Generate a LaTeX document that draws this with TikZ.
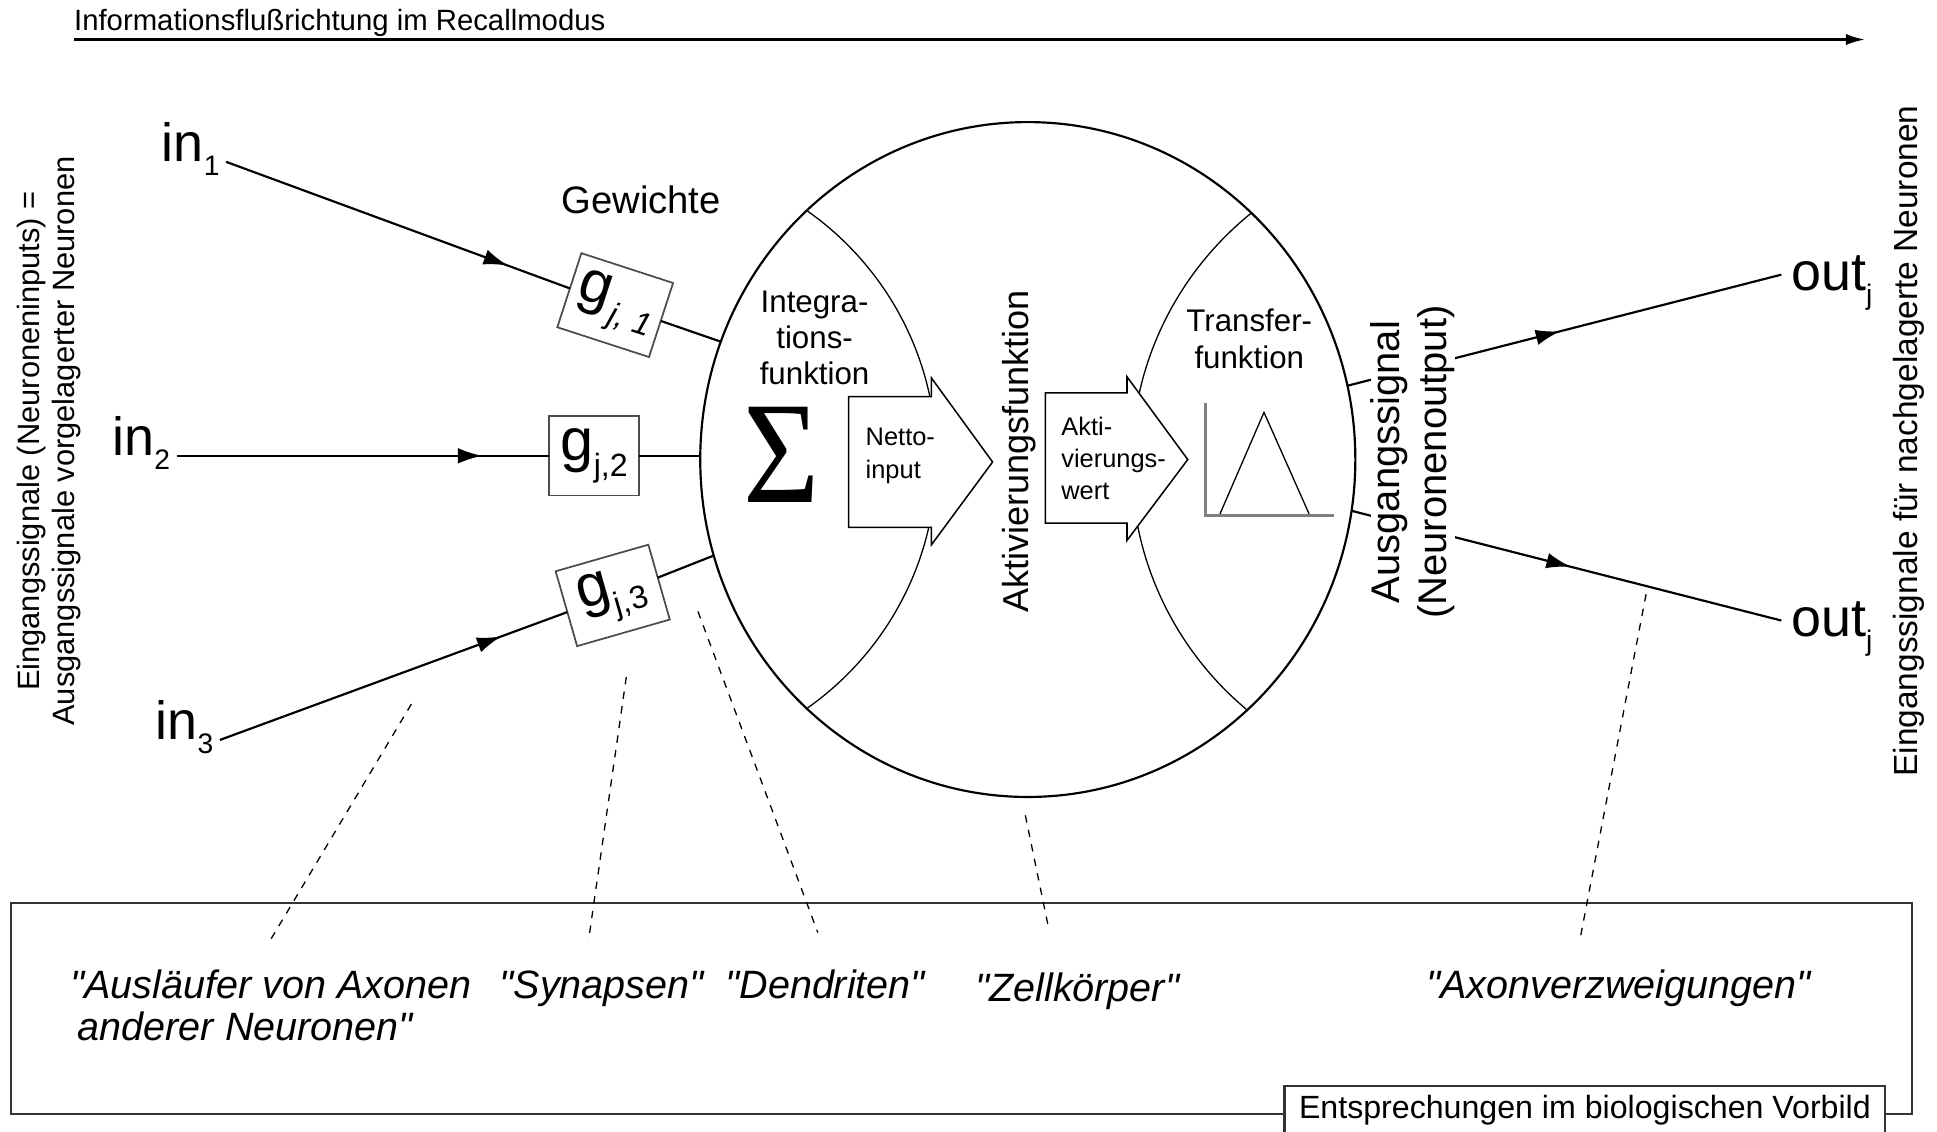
\documentclass[tikz,border=0pt]{standalone}
\usepackage{fontspec}
\setmainfont{Liberation Sans}
\newfontfamily\quotefont{Liberation Sans}
\newfontfamily\sigmafont{Liberation Serif}
\usepackage{graphicx}
\usetikzlibrary{arrows.meta,decorations.markings,shapes.geometric}

\newcommand{\lowidx}[2]{\raisebox{-0.26em}{\fontsize{#1}{#1}\selectfont #2}}
\newcommand{\qmark}{{\quotefont"}}

\begin{document}
\begin{tikzpicture}[x=0.01cm,y=-0.01cm,
  every node/.style={inner sep=0pt,outer sep=0pt},
  conn/.style={line width=0.5pt},
  midarrow/.style={postaction={decorate},decoration={markings,
      mark=at position #1 with {\arrow{Latex[length=5.6pt,width=3.6pt]}}}},
  sig/.style={font=\fontsize{12.4}{13}\selectfont,inner xsep=1.5pt},
  gbox/.style={draw=black!70,line width=0.4pt,fill=white,minimum width=0.78cm,
      minimum height=0.63cm,font=\fontsize{13.7}{14}\selectfont},
  part/.style={line width=0.3pt},
  blockarrow/.style={draw,line width=0.35pt,fill=white},
  small/.style={font=\fontsize{5.85}{7.4}\selectfont,align=left,anchor=west},
  mid/.style={font=\fontsize{7.2}{8.35}\selectfont,align=center},
  side/.style={rotate=90,align=center},
  bio/.style={font=\fontsize{9.1}{9.7}\selectfont\itshape},
  pointer/.style={line width=0.3pt,dash pattern=on 1.7pt off 1.7pt}]

\useasboundingbox (0,0) rectangle (1568,916);

% flow direction
\node[font=\fontsize{6.75}{8}\selectfont,anchor=base west] (flowlbl) at (60,25) {Informationsflußrichtung im Recallmodus};
\coordinate (flowstart) at (60,32);
\coordinate (flowend) at (1510,32);
\draw[line width=0.65pt,-{Latex[length=4.5pt,width=2.6pt]}] (flowstart) -- (flowend);

\node[side,font=\fontsize{7.1}{8.1}\selectfont] (insig) at (40,357)
  {Eingangssignale (Neuroneninputs) =\\Ausgangssignale vorgelagerter Neuronen};
\node[side,font=\fontsize{7.7}{9}\selectfont] (outsig) at (1545,357)
  {Eingangssignale für nachgelagerte Neuronen};

% neuron
\node[ellipse,draw,line width=0.5pt,minimum width=5.3cm,minimum height=5.46cm] (cell) at (832,372) {};
\begin{scope}
  \clip (832,372) ellipse [x radius=265,y radius=273];
  \draw[part] (512,372) circle [radius=246];
  \draw[part] (1176,375) circle [radius=260];
\end{scope}

\draw[blockarrow] (687,321) -- (754,321) -- (754,306) -- (803.5,374)
  -- (754,441) -- (754,427) -- (687,427) -- cycle;
\draw[blockarrow] (846.3,318) -- (912.3,318) -- (912.3,305) -- (961.5,372)
  -- (912.3,437.5) -- (912.3,423.5) -- (846.3,423.5) -- cycle;
\node[small] (netto) at (700.8,369) {Netto-\\input};
\node[small] (aktwert) at (859.2,371) {Akti-\\vierungs-\\wert};

\node (sum) at (632.8,368.3) {\sigmafont\fontsize{33.5}{34}\selectfont\scalebox{0.9}[1]{Σ}};
\node[mid] (integ) at (659.4,273.4) {Integra-\\tions-\\funktion};
\node[mid] (transfer) at (1011.3,274.2) {Transfer-\\funktion};
\node[side,font=\fontsize{8.3}{9}\selectfont] (aktfkt) at (825.3,365.4) {Aktivierungsfunktion};

\draw[gray,line width=0.7pt] (975.5,326.5) -- (975.5,417) -- (1080,417);
\draw[part] (987.6,416) -- (1023.2,333.8) -- (1059.7,416);

% inputs
\node[font=\fontsize{8.8}{9}\selectfont,anchor=base] (gewlbl) at (519,172.5) {Gewichte};
\node[sig,anchor=base east] (in1) at (183,131) {in\lowidx{6.5}{1}};
\node[sig,anchor=base east] (in2) at (143,369) {in\lowidx{6.5}{2}};
\node[sig,anchor=base east] (in3) at (178,599) {in\lowidx{6.5}{3}};

\node[gbox,rotate=-18] (g1) at (498,247) {g\kern1.2pt\lowidx{7.4}{\itshape j, 1}};
\node[gbox,minimum width=0.726cm,minimum height=0.64cm] (g2) at (481,369) {g\lowidx{7.4}{j,2}};
\node[gbox,rotate=16] (g3) at (496,482) {g\lowidx{7.4}{j,3}};

\draw[conn,midarrow=0.82] (in1.base east) -- (g1);
\draw[conn,midarrow=0.82] (in2.base east) -- (g2);
\draw[conn,midarrow=0.81] (in3.base east) -- (g3);
\draw[conn] (g1) -- (cell.159.2);
\draw[conn] (g2) -- (g2 -| cell.west);
\draw[conn] (g3) -- (cell.197.2);

% outputs
\node[sig,anchor=base west,inner xsep=0.08cm] (out1) at (1442,235) {out\lowidx{6.5}{j}};
\node[sig,anchor=base west,inner xsep=0.08cm] (out2) at (1442,515) {out\lowidx{6.5}{j}};
\draw[conn,midarrow=0.49] (cell.13.6) -- ([yshift=3.6pt]out1.base west);
\draw[conn,midarrow=0.51] (cell.-9.5) -- ([yshift=3.6pt]out2.base west);
\node[side,fill=white,font=\fontsize{9.2}{10.8}\selectfont] (ausg) at (1143.5,374)
  {Ausgangssignal\\(Neuronenoutput)};

% biological counterparts
\draw[line width=0.5pt,draw=black!80] (9,731) rectangle (1548,902);
\node[draw=black!80,line width=0.5pt,fill=white,minimum width=4.86cm,minimum height=0.40cm,
  font=\fontsize{7.4}{8}\selectfont] (biolbl) at (1283,899) {Entsprechungen im biologischen Vorbild};

\node[bio,align=left,anchor=north west] (axlbl) at (57,785)
  {\qmark Ausläufer von Axonen\\\hspace*{0.06cm}anderer Neuronen\qmark};
\node[bio,anchor=base] (synlbl) at (487,808) {\qmark Synapsen\qmark};
\node[bio,anchor=base] (denlbl) at (668,808) {\qmark Dendriten\qmark};
\node[bio,anchor=base] (zelllbl) at (872,811) {\qmark Zellkörper\qmark};
\node[bio,anchor=base] (axvlbl) at (1310,808) {\qmark Axonverzweigungen\qmark};

\coordinate (axtip) at (333,570);
\coordinate (syntip) at (507,548);
\coordinate (dentip) at (565,495);
\coordinate (zelltip) at (830,660);
\coordinate (axvtip) at (1332.5,481);
\draw[pointer] (axtip) -- ([yshift=7pt]axlbl.north);
\draw[pointer] (syntip) -- ([xshift=-3pt,yshift=7pt]synlbl.north);
\draw[pointer] (dentip) -- ([xshift=-1.7pt,yshift=8.5pt]denlbl.north);
\draw[pointer] (zelltip) -- ([xshift=-6.5pt,yshift=10pt]zelllbl.north);
\draw[pointer] (axvtip) -- ([xshift=-8.8pt,yshift=7pt]axvlbl.north);
\end{tikzpicture}
\end{document}
